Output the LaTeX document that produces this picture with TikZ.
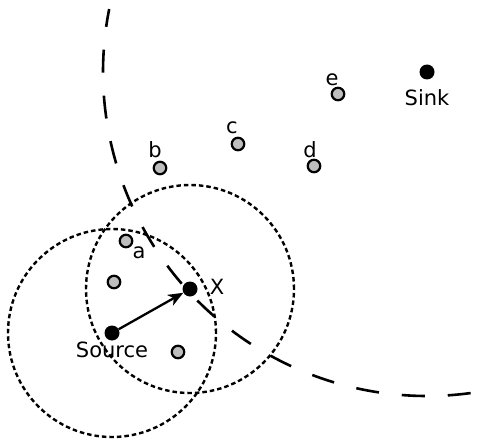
\documentclass[tikz,border=0pt]{standalone}
\usepackage{fontspec}
\setmainfont{DejaVu Sans}
\usepackage{tikz}
\usetikzlibrary{
	arrows.meta,
	backgrounds,
	positioning
}
\definecolor{NodeGray}{RGB}{190,190,190}

\begin{document}
\begin{tikzpicture}[x=1pt, y=1pt,
		relay/.style={circle, draw, line width=2.2pt, fill=NodeGray, minimum size=12.5pt, inner sep=0pt},
		hub/.style={circle, fill=black, minimum size=15pt, inner sep=0pt},
		tag/.style={font=\fontsize{21}{24}\selectfont, inner sep=0pt},
		radio/.style={dash pattern=on 4.5pt off 3pt, line width=2.4pt},
		reach/.style={dash pattern=on 23pt off 23pt, line width=2.6pt}]
		\useasboundingbox (0,0) rectangle (478,445);
		
		% source, forwarder and sink
		\node[hub, label={[tag, label distance=1pt]below:Source}] (src) at (112,112) {};
		\node[hub, label={[tag, label distance=12pt, yshift=2.5pt]right:X}] (fwd) at (190,156) {};
		\node[hub, label={[tag, label distance=10pt]below:Sink}] (sink) at (427,373) {};
		
		% other nodes
		\node[relay, label={[tag, label distance=1pt]-40:a}] (a) at (126,204) {};
		\node[relay] (n1) at (114,163) {};
		\node[relay] (n2) at (178,93) {};
		\node[relay, label={[tag, label distance=3pt, xshift=-5pt]above:b}] (b) at (160,277) {};
		\node[relay, label={[tag, label distance=3pt, xshift=-6pt]above:c}] (c) at (238,301) {};
		\node[relay, label={[tag, label distance=1pt, xshift=-4pt]above:d}] (d) at (314,279) {};
		\node[relay, label={[tag, label distance=1pt, xshift=-6pt]above:e}] (e) at (338,351) {};
		
		% hop
		\draw[line width=2.3pt, -{Stealth[length=15pt, width=12pt, inset=4pt]}] (src) -- (fwd);
		
		% ranges
		\begin{scope}[on background layer]
			\draw[radio] (src.center) circle (104pt);
			\draw[radio] (fwd.center) circle (104pt);
			\draw[reach, dash phase=5pt] ([shift={(168.8:324pt)}]sink.center) arc[start angle=168.8, end angle=279, radius=324pt];
		\end{scope}
	\end{tikzpicture}
\end{document}
